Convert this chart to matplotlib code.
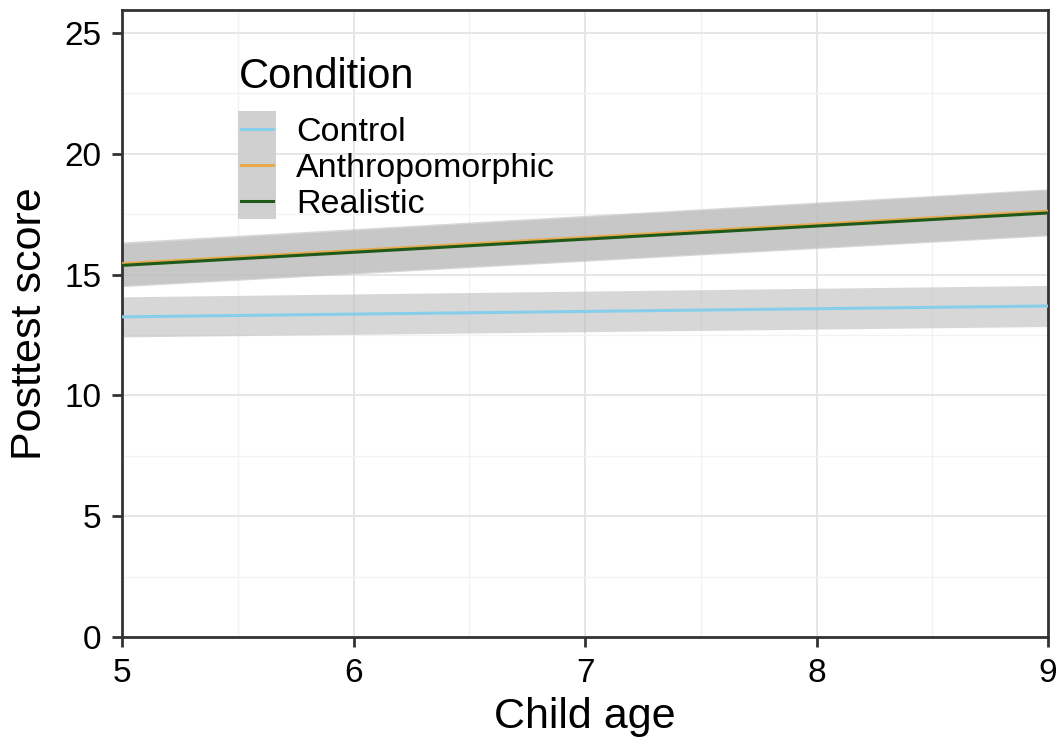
import numpy as np
import matplotlib
matplotlib.use("Agg")
import matplotlib.pyplot as plt
from matplotlib.lines import Line2D
from matplotlib.patches import Rectangle
from matplotlib.legend_handler import HandlerBase

plt.rcParams.update({"font.family": ["Liberation Sans", "DejaVu Sans"]})

# fitted lines (endpoints at age 5 and 9) with confidence bands
age = [5, 9]
conditions = ["Control", "Anthropomorphic", "Realistic"]
fit = {
    "Control": [13.25, 13.7],
    "Anthropomorphic": [15.45, 17.62],
    "Realistic": [15.38, 17.55],
}
lower = {
    "Control": [12.42, 12.85],
    "Anthropomorphic": [14.55, 16.65],
    "Realistic": [14.5, 16.6],
}
upper = {
    "Control": [14.08, 14.55],
    "Anthropomorphic": [16.35, 18.55],
    "Realistic": [16.28, 18.5],
}
colors = {"Control": "#87ceeb", "Anthropomorphic": "#e8a94a", "Realistic": "#1f5a1a"}

fig = plt.figure(figsize=(10.56, 7.4), dpi=100)
ax = fig.add_axes([122 / 1056, 1 - 637 / 740, (1048 - 122) / 1056, (637 - 10) / 740])

for c in conditions:
    ax.fill_between(age, lower[c], upper[c], color="#bdbdbd", alpha=0.6, lw=0, zorder=2)
for c in conditions:
    ax.plot(age, fit[c], color=colors[c], lw=2.2, zorder=3)

ax.set_xlim(5, 9)
ax.set_ylim(0, 25.95)
ax.set_xticks([5, 6, 7, 8, 9])
ax.set_yticks([0, 5, 10, 15, 20, 25])
ax.set_xticks(np.arange(5.5, 9, 1), minor=True)
ax.set_yticks(np.arange(2.5, 26, 5), minor=True)
ax.grid(which="major", color="#e6e6e6", lw=1.4, zorder=0)
ax.grid(which="minor", color="#f2f2f2", lw=1.0, zorder=0)
ax.tick_params(which="major", labelsize=24, length=7, width=2, color="#333333", pad=8)
ax.tick_params(which="minor", length=0)
for s in ax.spines.values():
    s.set_linewidth(2)
    s.set_color("#333333")
ax.set_xlabel("Child age", fontsize=31, labelpad=6)
ax.set_ylabel("Posttest score", fontsize=31, labelpad=10)


class KeyHandler(HandlerBase):
    def create_artists(self, legend, orig, x0, y0, width, height, fontsize, trans):
        bg = Rectangle((x0, y0 - 0.25 * height), width, height * 1.5,
                       facecolor="#d0d0d0", edgecolor="none", transform=trans)
        ln = Line2D([x0 + 0.08 * width, x0 + 0.92 * width], [y0 + height / 2] * 2,
                    color=orig.get_color(), lw=2.2, transform=trans)
        return [bg, ln]


handles = [Line2D([], [], color=colors[c]) for c in conditions]
leg = ax.legend(handles, conditions, title="Condition", loc="upper left",
                bbox_to_anchor=(0.111, 0.946), frameon=False, fontsize=24.5,
                title_fontsize=30, handler_map={Line2D: KeyHandler()},
                handlelength=1.1, handleheight=0.7, handletextpad=0.6,
                labelspacing=0.15, borderaxespad=0)
leg._legend_box.align = "left"
leg._legend_box.sep = 14

fig.savefig("out.png", dpi=100)
